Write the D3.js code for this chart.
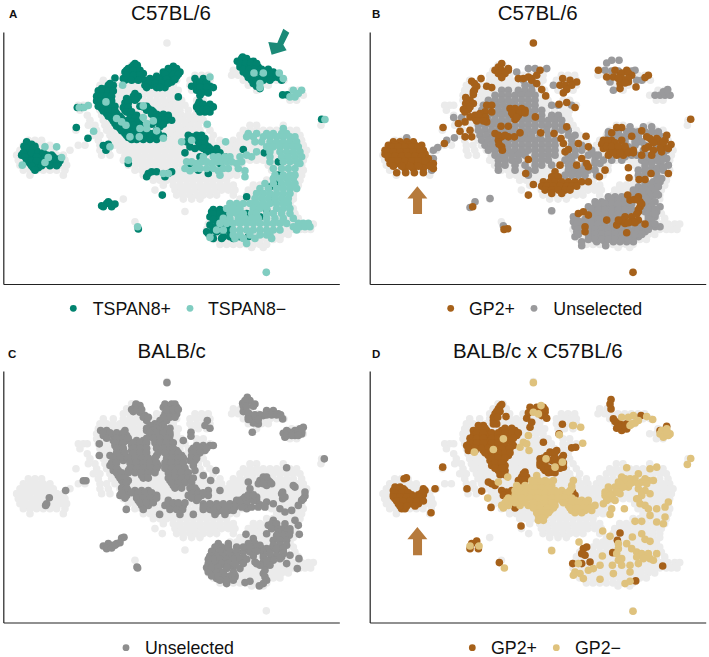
<!DOCTYPE html>
<html><head><meta charset="utf-8">
<script src="https://d3js.org/d3.v7.min.js"></script>
<style>html,body{margin:0;background:#fff}svg{display:block}text{font-family:"Liberation Sans",Arial,sans-serif;fill:#111}</style>
</head><body><div id="c"></div>
<script>
const allCells = [
[128,501],[195,395,410],[210,380,400,420,510,530,700,722],
[225,370,390,410,430,470,490,510,530,585,605,625,695,715,735,755,775,795,815,835],
[240,310,340,370,390,410,430,450,470,490,510,530,570,590,610,630,730,750,770,790,810,830,852],
[255,300,320,340,360,380,400,420,440,460,480,500,520,570,590,610,630,745,765,785,805],
[270,295,315,335,355,375,395,415,435,455,475,495,515,535,575,595,620,875,895,770],
[285,290,310,330,350,370,390,410,430,450,470,490,510,530,850,870,890,910],
[300,290,310,330,350,370,390,410,430,450,470,490,510,530,545,590,610,870,890],
[315,235,250,262,295,315,335,355,375,395,415,435,455,475,495,515,535,555,590,610,630],
[330,240,300,320,340,360,380,400,420,440,460,480,500,520,540,565,590,610],
[345,262,305,325,345,365,385,405,425,445,465,485,505,525,545,565,585,605],
[360,270,310,330,350,370,390,410,430,450,470,490,510,530,550,570,590,610,965],
[375,265,285,315,335,355,375,395,415,435,455,475,495,515,535,555,575,595,620,963,750,770,850],
[390,228,290,320,340,360,380,400,420,440,460,480,500,520,540,560,580,600,630,730,750,770,790,810,830,850,870,890],
[405,280,300,330,350,370,390,410,430,450,470,490,510,530,550,570,590,610,640,720,740,760,780,800,820,840,860,880,900],
[420,85,105,125,295,335,355,375,395,415,435,455,475,495,515,535,555,575,595,615,635,660,700,720,740,760,780,800,820,840,860,880,905],
[435,70,90,110,130,150,255,235,300,320,345,365,385,405,425,445,465,485,505,525,545,565,585,605,625,645,665,690,710,730,750,770,790,810,830,850,870,890,910],
[450,60,80,100,120,140,160,210,300,325,360,380,400,420,440,460,480,500,520,540,560,580,600,620,640,660,680,700,720,740,760,780,800,820,840,860,880,900,920],
[465,50,70,90,110,130,150,170,190,305,330,375,395,415,435,455,475,495,515,535,555,575,595,615,635,655,675,695,715,735,755,775,795,815,835,855,875,895,915],
[480,55,75,95,115,135,155,175,195,370,390,410,430,450,470,490,510,530,550,570,590,610,630,650,670,690,710,730,750,770,790,810,830,850,870,890,910],
[495,60,80,100,120,140,160,180,200,385,405,425,445,465,485,505,525,545,565,585,605,625,645,665,685,705,725,805,825,845,865,885,905],
[510,70,90,110,130,150,170,195,405,425,445,465,485,505,525,545,565,585,605,625,645,665,685,705,725,815,835,855,875,895,910],
[525,90,190,430,450,470,490,510,530,550,570,590,610,630,650,670,690,710,830,850,870,890,905],
[540,460,480,500,520,540,560,580,600,620,640,660,680,800,820,840,860,880,900],
[555,490,520,540,560,580,600,620,640,660,680,700,760,780,800,820,840,860,880,895],
[570,465,525,545,565,585,605,625,645,665,685,705,745,765,785,805,825,845,865,885],
[585,487,530,550,570,590,610,630,650,700,740,760,780,800,820,840,860,880],
[597,370,550,575,600,720,740,760,780,800,820,840,860,880],
[610,690,710,730,750,770,790,810,830,850,870],
[625,680,700,720,740,760,780,800,820,840,860,880],
[634,555],
[640,640,660,680,700,720,740,760,780,800,820,840,860,885],
[655,630,650,670,690,710,730,750,770,790,810,830,850,870,895],
[665,405],
[672,625,645,665,685,705,725,745,765,785,805,825,845,865,885,905,925,940],
[688,620,640,660,680,700,720,740,760,780,800,820,840,860,880,900,915,932],
[703,625,645,665,685,705,725,745,765,785,805,825,845,865],
[718,640,660,680,700,720,740,760,780,800,820,840],
[733,660,680,700,720,740,760,780,800],
[742,755,790],[817,799]
];

const tspanPlus = [
[425,80],[438,72,90,105],[452,75,90,110],[465,65,85,100,120,140,155],[477,85,100,125,150,175],[490,90,105,120,135,160,175],[503,100,115],
[432,80,95],[445,80,100],[458,70,95,115,130],[470,75,110,135,160],[482,80,95,110,140,165,180],[497,95,125,150,170],[510,105],
[322,232,245],[382,229],[414,264],
[436,310],[432,325],[450,318],[490,385],
[255,325,340],[265,305,320,335],[280,298,312,328],[295,296,310,325],[310,298,330],[325,305,320,335],[340,320,335,350],[355,335,350,365],[370,345,362,380],[385,360,375,395,410],[400,375,390,410,430],[412,385,400,420,440,460],
[250,330],[272,295,310,325,340],[288,290,305,320,335],[302,290,303,335],[318,295,310,335,345],[332,310,325,345],[348,325,345,360],[362,340,355,372],[378,350,370,388],[392,365,385,403,420],[406,380,400,420,440],[418,395,410,430,450,470],
[280,405],[295,410,380],[315,378],[330,375],[340,390],[350,400],[360,385],
[288,400,415],[300,385,405],[308,375,385],[322,370,385],[335,380,395],[345,395,410],[355,390,405],[365,395,415],[375,400,425],
[320,430],[325,445],[335,460],[345,475,505],[355,490],[360,500],[365,470],[380,480],[400,460],[412,470],
[318,420,440],[330,440,455],[342,455,470,490],[352,470,485,505],[360,480,495,515],[372,455,490],[390,470],[400,450,475],[408,480,490],
[190,405],[200,395],[205,385,410],[215,375,395,415],[220,430],[235,370,385,405,425],[233,345],
[195,400,412],[210,380,400,420],[225,380,400,420],[240,375,395,415,435],
[198,520],[205,505,530],[215,490,515,540],[228,470,490,510,530],[235,450],[245,470,490,515],[255,435,455,475],[262,495],[290,535],
[210,510,525],[222,495,520,535],[238,455,475,500,525],[250,445,465,485,505],[262,440,470,480],
[235,585,610],[258,575,590,610,630],[270,590,610],[262,640],[285,600],[305,598],[320,590,605,620,640],[335,600,615,630],[325,630],
[245,590,600,620],[262,600,620],[278,605,625],[312,595,610,630],[328,595,610,620],
[170,728],[183,712,730,745,760],[200,720,740,755,775],[215,730,750,770,820],[232,745,760,800,820,835],[235,780],[250,760],[265,780],[240,845],
[175,725,740],[190,720,737,752,770],[207,730,748,765,785,805],[222,740,760,810,830],[240,755,770,790,810],[258,770],
[284,848,862],[357,965],
[405,565,590,605],[425,560,595],[410,575],[440,570,600,625],[435,610],[458,555,640,660,793],[448,730],[485,835],[470,600,675],[490,570,660],[510,595],[520,625],
[415,585,600,615],[430,600,615],[445,585,610,630,650],[455,620],
[515,455,470,515],[520,445,505],[530,440,495],[585,487],
[605,325],[610,320,330],[617,305],[620,310,335],[612,345],
[687,415],
[635,635,650,665],[650,630,650,670,780],[640,690,740],[630,800],[590,740],[560,810],[600,820],[605,815],[550,830],[525,835],
[690,640,660,680],[700,625],[710,670,690,720,745],[705,690],
[628,640,660],[642,640,660,680],[658,640,660,680],[675,630,650,670,690],[695,620,650],[715,640,665,700]
];
const tspanMinus = [
[440,135,170],[472,185,145],[495,67],[487,135],
[322,238,252],[316,265],[393,281],[440,330],[480,385],
[305,318],[355,350],[365,365],[375,378],[317,430],[352,430],[362,460],[385,420,440],[410,390,418],[392,470],[414,490],[370,440],[255,368],
[218,762,790,838],[250,780],[262,780],[235,850],[230,630],
[270,880,905],[290,870,885],[280,895],[358,975],[372,622],[425,545,677],[420,575],[520,490,505],[680,413],
[385,850],
[400,745,770,800,820,845,860],[410,740,760,790,810,830,850,870,885],[425,765,785,810,830,850,870,890],[440,800,820,840,860,880,895],[455,770,810,840,860,880,900],[470,610,640,655,675,690,720,755,810,845,865,885,905],
[465,740],[485,560,575,605,620,650,665,680,695,725,810,850,870,890],[490,590,635,710,900],
[505,555,585,600,620,640,670,685,715,820,845,865,885],[512,570,655,735],[525,660,825,850,870,885],[530,735],
[535,820,840,860,880],[550,795,820,845,865,885],[565,780,805,830,850,870,890],[580,770,790,810,830,850,870],[595,765,785,805,825,845,865],
[610,690,710,730,750,770,790,810,830,850,865],[625,680,700,720,760,780,800,830,850,870],[640,690,710,730,755,770,800,820,845,870],
[655,670,690,715,735,755,775,800,825,850,880],[670,660,680,700,720,740,760,780,800,820,840,860,895,910,925],[680,880,900,915,930],
[690,650,670,700,720,740,760,780,800,820,840,890],[705,700,720,750,780,800,810],[712,630],[715,705,730,765,815],[730,740],[817,799]
];
const gp2Plus = [
[128,535],
[425,115,135,155,175],[435,100,120,140,160,180,200],[450,90,105,125,145,165,185,205],[462,90,110,130,150,170,190,210],[475,100,120,140,160,180,200,220],[490,105,125,150,175,200,215,235],[505,150,175,205,235],[518,125,152,178,205],
[440,110,130,150,170,190],[455,98,115,135,155,175,195],[468,100,120,140,160,180,200],[482,110,130,150,170,190,210],[498,115,140,165,190,225],
[382,264],[430,268],[370,310],[393,315],[410,330,350],[390,345],[365,330],
[243,350],[235,378],[258,365,395],[270,358],[262,410],[283,355],[292,332],[300,345],[310,332,355],[328,340,325],[315,395,410],[335,390,410],[340,375],[350,345,385],[355,360,375],[365,395],[345,360],
[250,358],[275,355],[298,335],[320,345],[335,330],[345,370],[352,392],[362,365,385],
[190,440],[200,430],[210,420,440,460],[205,460],[220,430,450],[232,440],
[235,490,505,530],[230,520],[240,530],[225,545],[210,555],[250,545],[268,560],[287,572],
[235,623],[240,645],[245,665],[255,615,630,650],[268,635],[278,625],[312,612],[307,635],[322,660],
[325,465],[330,480,495,510],[345,475,490],[358,480],[350,541],
[325,480,500],[338,470,495,510],[352,485],
[378,438,460],[400,420],[410,440,460,478],[398,495],[420,430],[440,440],[450,442],
[405,430,450],[432,432],
[398,557],[400,597],[415,618],[430,625,670],[380,635],[455,630],[448,640],[408,693],[440,700],
[478,520],[495,615,665],[475,680],[490,695],[500,700],[520,512],[553,535],[585,520],
[515,600],[530,590,610],[545,565,585,600,620,640,660,680,700],[558,560,575,595,615,635,650,665],[570,570,590,610,630,645],[580,590,620],
[530,733],[510,750],[503,820],[533,822],
[382,800,785],[398,770],[392,860],[420,745,755,770,800],[432,740],[408,830],[410,875],[420,890,910,930],[425,910],[405,935],[433,948],[440,925,880],
[445,745,760,800],[450,780,815,835,895],[465,760,785,805,860,890],[455,920],
[428,745,760,780],[438,755,770,790,810],[458,775,795,820,835],[415,885,905],[428,895,925],[445,870,915,940],
[520,940,888],[538,852,870],
[585,818],[600,825],[590,850],[605,855],[620,855],[635,850],[650,830,810],[665,795],[675,785],[670,810],[665,830],[660,850],[672,870],[698,815],[660,755],[640,670],[635,685],[645,700],[680,690],[695,690],
[598,838,848],[612,860],[628,850],[642,845],[660,800,790],[668,820,840],
[620,353],[688,447],[686,458],
[210,730,780,815],[230,755,775],[225,795,830,880],[240,810],[250,795],[245,820],[265,795],[260,843],[232,870],
[218,800,820],[235,800,820,790],[248,810],
[357,1007],[817,834]
];
const gp2Unselected = [
[413,155],[450,235],[442,248],[475,235],[510,230],[352,296,320],[420,275],[413,298],
[205,520,540],[215,485],[205,575],
[240,530,505],[255,510,530,595],[270,440,460,490,510,530],[285,420,440,460,480,500,520,540],[300,400,420,440,460,480,500,520,540],
[315,385,405,425,445,520,540,590,610,650],[330,380,400,430,450,520,540,560],[345,380,400,420,440,460,510,530,560,590,610],
[360,380,400,420,440,460,500,520,540,560,580,600,620],[375,370,390,410,480,500,520,540,560,580,600,620],[390,370,390,410,480,500,520,540,575,600,620,640],
[405,375,395,510,530,555,580,640,660],[420,380,400,460,480,500,520,540,560,580,600,650],[435,390,410,460,480,500,520,540,560,580,600,650,680],
[450,400,420,460,480,500,520,540,560,580,600,660,680,710],[465,420,440,470,490,510,540,560,580,600,640,660,700,720],[480,430,450,470,490,540,560,580,630,650,720],
[495,430,450,480,510,540,560,590,640,650,690],[510,430,480,520,540,640,660,680,700,720],[525,520,630,650,670,690,725],
[315,465,480,500],[330,470,490,510],[345,480,490],[375,430,450,460],[390,430,450,460],[405,415,435,455,475,495],[420,420,440],[435,430,445],[450,440],[465,450],
[380,890,865,825],[395,790,835,815,760],[405,760,790],[400,905],[410,920,815],[425,850],[435,840,790,870],[440,905],[465,730],[490,735,720],
[395,850,870,890,910],[410,780,800,850],[425,780,810,840,860],[440,770,820],[480,745,770,800],[470,810],
[450,865,905,935],[465,830,845,875,905,925],[480,860,880,890],[490,870,915],[505,890,905],[510,905,925],[525,850,870,905],[545,870,895,915],[560,870,890],[570,900,850],[585,845,895,910],
[475,935],[480,920,905],[490,890],[495,940],[500,925,870],[510,850],[515,870],[520,900],[535,920],[540,905],[550,890],[555,870],[560,850,910],[570,835,870],[565,890],[580,905,880],[575,860],
[590,760,780,800,830,870,885],[605,720,740,760,780,800,830,880,900],[620,700,720,740,760,780,800,820,870,890,915],[635,720,740,760,780,800,820,870,890,905],
[650,655,700,720,740,770,790,810,880,900],[665,655,675,700,720,740,770,890],[680,660,680,710,730,750,770,790,810,840,860,880,900,915],[695,665,710,730,750,770,790,835,855,870],
[710,660,710,730,750,770,790,810,830,850],[725,680,725,750,775,795,815,835],[737,752,680],
[598,770,790,810,840,875],[612,730,750,770,790,810,830],[628,710,730,750,770,790,810,830,880,900],[642,700,730,750,770,790,810,880,900],[658,665,690,710,730,750,780,800,880],[672,665,690,710,730,750,780,800,820,840,860,880,900],[688,670,700,720,740,760,780,800,820,850,880],[703,670,700,720,740,760,780,800,820,840,860],[718,700,720,740,760,780,800,820],
[605,360],[622,345],[595,405],[632,590],[677,445],
[188,755],[180,770,792],[210,750,840],[240,860,845],[245,765],[270,775],[212,770,790,830],
[285,900,915,930,945],[275,925],[268,938]
];
const balbUnselected = [
[141,501],[487,148],[505,140],[510,137],[465,197],[436,258,250],
[215,405,490,530],[210,420,510],[228,400],[230,420],[235,495,515,530],[240,435],[255,440,480,500,622],[265,465],[278,630],[270,615],[290,573],[302,573],
[205,408,495,515,525],[222,395,410,425,500,520,535],[245,430,445,490,510,525],[270,450,470,490],[278,440,470,490,510],
[285,302,320,375,440,460,480,500],[300,310,340,360,380,450,470,490,510],[315,340,360,380,410,430,470,490,510,550],
[325,298],[330,345,365,395,415,430,470,500,515,590,610,630,640],[345,360,395,415,430,480,510,530,575,595,615],
[360,298,330,350,370,395,415,435,470,510,530,545,575,590],[375,345,370,395,415,435,455,500,520,540,570,585],[390,330,345,395,415,435,455,475,500,520,540,580],
[405,340,355,385,405,425,445,465,515,535,555,585,648],[420,355,375,425,440,510,530,550,610],[435,365,385,510,530,550,570,632],[450,375,520,540],
[465,370,385,405,425,445,575,590,625,660],[480,360,380,410,430,450,470,565,585,605,625],[495,415,435,455,505,590],[510,425,445,495,515,535,550],
[522,430,510,530,548,379,610,630,650,670],[537,479,540,580,645,675],
[292,310,330,350,370,450,470,490,510],[308,320,350,370,385,440,460,480,500],[322,345,370,400,420,440,465,480,500,520],[338,350,370,400,420,440,470,490,510,520,580,600,620],[352,350,375,400,420,440,475,495,520,535,580,600],[368,340,360,385,405,425,445,465,500,515,535,550,575,590],[382,335,350,390,410,430,450,470,495,515,535,550,580],[398,340,350,390,410,430,450,470,495,515,535,555],[412,350,365,385,405,425,445,465,505,525,545,565],[428,360,375,430,445,505,525,545,565,580],[442,370,380,515,535,555,575],[458,365,380,525,545,570,585],[472,365,395,415,435,455,580,595,610],[488,375,410,430,450,470,575,595],[502,420,440,460,505,520,535,555],
[515,630,670],[510,650],[505,690,740],[495,710,770],[490,730],[485,750],[508,780],[500,800],[520,740],[530,650],[525,665,685],
[505,610,630,650,670,710,725],[515,610,650,690,705,725,755,775,795],[495,720,740,760],[485,735,770],[478,745,760],[525,640,675,700],
[440,745,810],[460,750],[435,780],[430,795],[450,800,880],[397,860],[470,848],[490,848],[482,915],[495,905],[510,895],[505,820],[520,840],[530,855],[525,875],
[435,790,805],[445,775,790,815],[425,790,800],[455,885],[475,845],[485,855],[470,915],[490,910],
[555,885,820],[570,895,805],[597,898,738],[575,830],[580,850],[585,865],[595,850,800],[610,835,855,760],[625,840,745,765],[640,815],[645,830],[650,850,730,750],[660,870,830],
[565,815,830,855],[580,815,835,870],[590,835,870],[600,830,850,868],[615,820,840,860],[630,820,840,860],[640,800,830,850],[655,790,850],[665,790,815,845],[680,790,810],[695,795],[715,790],[725,795],[640,745,765,785],
[655,810,710],[675,820,800],[670,840,897],[690,810,780],[680,765,710,730],[705,795],[685,860],[700,892],[630,780],[635,770],[665,730],
[695,700],[700,720],
[625,655,685],[650,640],[640,660,680],[665,630],[660,650],[655,670],[660,690],[680,630,650,670],[695,640],[690,660],[705,625],[715,640],[710,660],[700,680],[730,650,670],[725,690,705],[720,705],[745,680],[742,735],[738,750],[735,800],[745,790],[752,778],
[635,645,665,685,710,730,750,770],[648,635,660,690,710,770],[662,630,650,670,690,710,760],[672,625,640,660,680,700,720,740],[685,625,645,665,685,705,730,770],[697,620,635,655,680],[710,625,650,670,700],[722,635,655,675,690],[735,660,680,700],
[608,365],[606,372],[625,350],[622,360],[630,340],[625,325],[632,310],[640,320],[638,335],[630,345],
[695,411],[698,413],
[185,742],[195,750],[203,728],[205,765],[228,730],[245,745],[250,760],[245,775],[240,790],[225,800,820],[235,835],[250,848],[262,760],[265,775],[290,757],[293,850],[305,855],[295,870],[285,885],[280,900],[275,910],[300,885],[295,905],
[238,750,765,780,800,815,830,842],[232,745],[252,745,775],[195,735],[212,730,760,740],[290,870,890,905],[285,860,895,905],[300,860,875,895],
[370,973]
];
const d2Plus = [
[427,154],[430,147],[455,120,135],[465,115,130,150,210],[478,115,130,150,170,190,205],[490,120,140,160,180,200],[505,130,150,170,190],[520,140,150],[460,240],[532,228],[395,263],
[460,125,145,205],[472,120,140,160,200],[484,115,135,155,175,195],[497,125,145,165,185,205],[512,135,155,180],
[207,440],[220,430],[235,420],[255,415],[265,425],[243,453],
[212,435],[228,425,435],[245,415,428],[265,415],
[215,525,545,565],[230,570],[240,560],[248,575,515],[260,530],[275,525],[266,622],[295,612],
[222,530,555,570],[232,550,520],
[270,385,370],[285,355,375,395,440,460,480],[300,355,375,395,420,440,460,485],[315,355,375,395,420,440,460],[330,335,350,370,390,410,430,450,475],[345,340,360,385,405,430,460],
[360,400,420,440,460],[375,405,425,445],[390,410,430,450],[405,430,450],[418,435,450],
[278,375,390,450,470],[292,365,385,410,430,450,470,490],[308,345,365,385,410,430,450,475],[322,345,365,385,410,430,450,470],[338,340,360,380,400,420,440,465],[352,390,410,430,450,465],[368,410,430,450],[382,420,440],[398,420,440],
[320,565],[337,650],[335,662],[360,575],[355,595],[345,605],[370,555],[375,590,610],[360,625],[390,555],[405,570],[410,590],[395,605,625],
[368,565,600,620],[350,585,600],[382,555,570,600,625],[398,565,580,615],[412,580,600],
[410,510],[425,500,515],[435,490],[440,500],[460,336],[467,380],[516,408],[440,400],[450,420],[445,410],
[415,505],[433,495,510],
[465,440,470],[470,455],[480,445,465],[470,653],[480,660],[518,480],[572,498],
[625,350],[617,365],[640,345,370],[682,433],
[192,768],[205,765],[220,768],[250,775],[265,790,815],[278,785],[285,800],[280,815],[268,800],[240,858],[285,915],[272,935],
[260,790],[272,790,810],[258,780],
[593,795],[615,787],[652,773],[640,685],[635,695],[655,680],[660,690],[680,705],[685,653,680],[737,842],[692,923],[490,565],[510,575]
];
const d2Minus = [
[141,535],[320,505],[300,520],[325,515],[335,495],[345,522],[310,445],[342,415],[350,358],[230,535],[210,558],[235,550],
[270,653,655],[275,677],[323,683],[298,613],[370,573],[380,622],[395,600],[425,458],[488,398],[440,430],
[420,545],[435,530,550,570,595,655],[450,485,510,530,550,570,590,650],[465,480,500,520,540,560,580,600,620,645],[480,480,500,520,540,560,585,605,625,640],
[495,455,470,490,510,535,555,580,600,620,640,660,680,700],[510,440,460,495,520,550,580,600,640,660,680,700,720],[525,545,565,585,650,670,690,710],[540,550,570],[555,550,565],
[440,540,560,580],[458,495,520,540,560,580,650],[472,490,510,530,550,570,590,610,635],[488,460,480,500,525,545,570,590,610,630,650],[502,450,480,510,535,570,590,625,650,670,690],[518,445,535,555,575,595,645,665,685,705],[532,545,560,580,660,680],[548,560],
[397,815],[400,885],[395,905],[415,850],[425,800],[430,825],[435,880,895],[440,790,835],[445,810],[440,860],[455,780,820],[460,795,850],[465,760,870],[475,885,775,795],[480,750],[490,765,845,850],[505,745,855],
[430,810,840,870],[445,795,825,850,875],[455,760,805],[470,750,785,860],[480,765,860],[495,755,780],
[510,870],[520,880,905,808,770],[515,930],[500,940],[540,885],[537,765],[545,930],[558,840,860],[565,925],[560,905],
[587,743],[603,765],[595,860],[605,832],[612,870],[618,885],[625,815],[640,830],[625,790],[640,790],[650,845],[655,860,880,905,785],[670,800],[665,845],[670,865],[670,885],[675,790,895],[685,850,670],
[690,772,800,825],[662,742],[710,825,660],[715,775],[690,735],[700,715],[705,700],[715,675],[730,685],[720,655],[732,735],[745,810],[738,825],[646,590],[632,345,372],[698,448],[620,672],
[245,800,820],[240,835],[255,850],[243,875],[252,893],[262,840],[270,825],[265,830],
[285,920,935],[280,935],[295,915,930,945],[305,925],[300,940],[290,935],
[369,1007],[387,997],[828,834]
];
const tealArrow = [[868,97],[850,85],[832,128],[805,125],[815,163],[860,150],[850,133]];
const brownArrowB = [[187,558],[217,595],[201,595],[201,642],[174,642],[174,595],[157,595]];
const brownArrowD = [[187,575],[217,612],[201,612],[201,660],[174,660],[174,612],[157,612]];

const palette = {tspanPlus:"#01836f",tspanMinus:"#80cdc1",gp2Plus:"#a6611a",gp2Minus:"#dfc27d",greyB:"#9a9a9c",greyC:"#8e8e8e",bg:"#ebebeb"};
const flat = rows => rows.flatMap(r => r.slice(1).map(x => [x, r[0]]));

const panels = [
 {id:"A",title:"C57BL/6",left:3.3,right:339.3,top:32,bottom:284,dx:[10,1018],dy:[852,95],labelX:9,labelY:18,titleX:171,titleY:19.5,
  layers:[[tspanPlus,palette.tspanPlus],[tspanMinus,palette.tspanMinus]],arrow:[tealArrow,"#1b8a78"],
  legend:[[73.3,92.7,"TSPAN8+",palette.tspanPlus],[190,208,"TSPAN8\u2212",palette.tspanMinus]],legY:315,dotY:308.3},
 {id:"B",title:"C57BL/6",left:369.7,right:705.7,top:32,bottom:284,dx:[44,1052],dy:[852,95],labelX:372,labelY:17.5,titleX:537.7,titleY:19.5,
  layers:[[gp2Unselected,palette.greyB],[gp2Plus,palette.gp2Plus]],arrow:[brownArrowB,"#b67a3c"],
  legend:[[450.7,469,"GP2+",palette.gp2Plus],[534,553.3,"Unselected",palette.greyB]],legY:315,dotY:308.3},
 {id:"C",title:"BALB/c",left:3.3,right:339.3,top:371,bottom:622.5,dx:[10,1018],dy:[862,106],labelX:8,labelY:358,titleX:171.7,titleY:358,
  layers:[[balbUnselected,palette.greyC]],
  legend:[[126,145,"Unselected",palette.greyC]],legY:654.3,dotY:647.7},
 {id:"D",title:"BALB/c x C57BL/6",left:369.7,right:705.7,top:371,bottom:622.5,dx:[44,1052],dy:[862,106],labelX:372,labelY:358,titleX:537.8,titleY:358,
  layers:[[d2Plus,palette.gp2Plus],[d2Minus,palette.gp2Minus]],arrow:[brownArrowD,"#b67a3c"],
  legend:[[472.3,491,"GP2+",palette.gp2Plus],[556.3,575,"GP2\u2212",palette.gp2Minus]],legY:654.3,dotY:647.7}
];

const svg = d3.select("#c").append("svg").attr("width",709).attr("height",657);
const R = 3.8;
panels.forEach(p => {
  const g = svg.append("g");
  const x = d3.scaleLinear().domain(p.dx).range([p.left,p.right]);
  const y = d3.scaleLinear().domain(p.dy).range([p.bottom,p.top]);
  // shared background is stored in panel-A units
  const bx = d3.scaleLinear().domain([10,1018]).range([p.left,p.right]);
  const by = d3.scaleLinear().domain([852,95]).range([p.bottom,p.bottom-252]);
  g.append("g").selectAll("circle").data(flat(allCells)).join("circle")
    .attr("cx",d=>bx(d[0])).attr("cy",d=>by(d[1])).attr("r",R).attr("fill",palette.bg);
  p.layers.forEach(([rows,col]) => {
    g.append("g").selectAll("circle").data(flat(rows)).join("circle")
      .attr("cx",d=>x(d[0])).attr("cy",d=>y(d[1])).attr("r",R).attr("fill",col);
  });
  if(p.arrow){
    g.append("path").attr("d",d3.line().x(d=>x(d[0])).y(d=>y(d[1])).curve(d3.curveLinearClosed)(p.arrow[0])).attr("fill",p.arrow[1]);
  }
  const axB = d3.axisBottom(x).tickValues([]).tickSizeOuter(0);
  const axL = d3.axisLeft(y).tickValues([]).tickSizeOuter(0);
  [g.append("g").attr("transform",`translate(0,${p.bottom})`).call(axB),
   g.append("g").attr("transform",`translate(${p.left},0)`).call(axL)].forEach(a=>a.select(".domain").attr("stroke","#222").attr("stroke-width",1.2));
  g.append("text").attr("x",p.labelX).attr("y",p.labelY).attr("font-size",11.5).attr("font-weight","bold").text(p.id);
  g.append("text").attr("x",p.titleX).attr("y",p.titleY).attr("text-anchor","middle").attr("font-size",20.5).text(p.title);
  p.legend.forEach(([cx,tx,label,col])=>{
    g.append("circle").attr("cx",cx).attr("cy",p.dotY).attr("r",3.4).attr("fill",col);
    g.append("text").attr("x",tx).attr("y",p.legY).attr("font-size",17.8).text(label);
  });
});
</script></body></html>
